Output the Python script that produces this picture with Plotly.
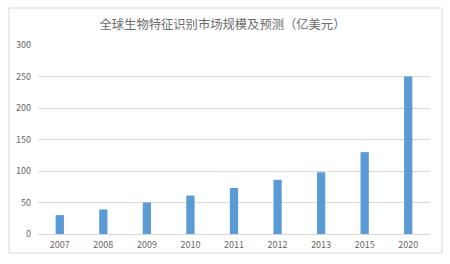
import plotly.graph_objects as go

years = ["2007", "2008", "2009", "2010", "2011", "2012", "2013", "2015", "2020"]
values = [30, 39, 50, 61, 73, 86, 98, 130, 250]
y_ticks = [0, 50, 100, 150, 200, 250, 300]

fig = go.Figure(go.Bar(x=years, y=values, marker=dict(color="#5b9bd5", line=dict(width=0))))

L, R, T, B = 38, 20, 45, 30
W, H = 450, 264
pw, ph = W - L - R, H - T - B

fig.update_layout(
    width=W, height=H,
    margin=dict(l=L, r=R, t=T, b=B),
    paper_bgcolor="white", plot_bgcolor="white",
    bargap=0.81,
    showlegend=False,
    font=dict(family="Noto Sans CJK SC", color="#595959", size=9),
    title=dict(text="全球生物特征识别市场规模及预测（亿美元）", x=(100 + 345) / 2 / W, xanchor="center",
               y=1 - 25 / H, yanchor="middle",
               font=dict(size=12.3, color="#6b6b6b", family="Noto Sans CJK SC")),
    xaxis=dict(type="category", showgrid=False, showline=True, linecolor="#d9d9d9",
               ticks="", tickfont=dict(size=9, color="#666666"), ticklabelstandoff=2),
    yaxis=dict(range=[0, 300], tickvals=y_ticks, showgrid=True, gridcolor="#d9d9d9",
               gridwidth=1, zeroline=False, showline=False, ticks="",
               tickfont=dict(size=9, color="#666666"), ticklabelstandoff=6),
    shapes=[dict(type="rect", xref="paper", yref="paper",
                 x0=(9 - L) / pw, x1=(442 - L) / pw,
                 y0=-(253 - (H - B)) / ph, y1=((H - B) - 8) / ph,
                 line=dict(color="#d9d9d9", width=1), fillcolor="rgba(0,0,0,0)", layer="below")],
)

fig.write_html("out.html")
